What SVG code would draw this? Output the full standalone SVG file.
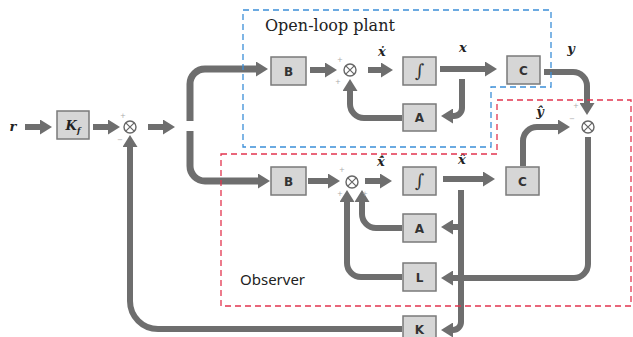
<svg xmlns="http://www.w3.org/2000/svg" width="633" height="337" viewBox="0 0 633 337">
<style>
.box{fill:#d6d6d6;stroke:#7a7a7a;stroke-width:1.5}
.bl{font-family:"DejaVu Sans","Liberation Sans",sans-serif;font-weight:bold;font-size:12px;fill:#333;text-anchor:middle}
.wire{fill:none;stroke:#6e6e6e;stroke-width:6}
.bus{fill:none;stroke:#6e6e6e;stroke-width:7}
.arr{marker-end:url(#ah)}
.sum{fill:#fff;stroke:#666;stroke-width:1.4}
.lab{font-family:"DejaVu Serif","Liberation Serif",serif;font-style:italic;font-weight:bold;font-size:13px;fill:#222;text-anchor:middle}
.sg{font-family:"DejaVu Sans",sans-serif;font-size:7px;fill:#aaa;text-anchor:middle}
.dash{fill:none;stroke-width:1.3;stroke-dasharray:6 4}
.integ{font-family:"DejaVu Serif","Liberation Serif",serif;font-size:18px;fill:#333;text-anchor:middle}
.title{font-family:"DejaVu Serif","Liberation Serif",serif;font-size:16px;fill:#222}
.obs{font-family:"Noto Sans","Open Sans",sans-serif;font-size:15px;fill:#222}
</style>
<defs>
<marker id="ah" markerUnits="userSpaceOnUse" viewBox="0 0 12 15" markerWidth="12" markerHeight="15" refX="4" refY="7.5" orient="auto">
<path d="M0,0 L12,7.5 L0,15 z" fill="#6e6e6e"/>
</marker>
<g id="sumsym"><circle class="sum" r="6"/><path d="M-4.2,-4.2 L4.2,4.2 M-4.2,4.2 L4.2,-4.2" stroke="#666" stroke-width="1.2"/></g>
</defs>

<g id="connectors">
<path class="wire arr" d="M25,127 H44"/>
<path class="wire arr" d="M93,127 H112"/>
<path class="wire arr" d="M148,127 H167"/>
<path class="bus arr" d="M190,121 V84 A15,15 0 0 1 205,69 H260"/>
<path class="bus arr" d="M190,131 V166 A15,15 0 0 0 205,181 H262"/>
<path class="wire arr" d="M310,70 H329"/>
<path class="wire arr" d="M368,70 H385"/>
<path class="wire arr" d="M402,118 H364 A14,14 0 0 1 350,104 V87"/>
<path class="wire arr" d="M440,69 H489"/>
<path class="wire arr" d="M462,79 V108 A8,8 0 0 1 454,116 H449"/>
<path class="wire arr" d="M544,72 H573 A14,14 0 0 1 587,86 V107"/>
<path class="wire arr" d="M588,137 V264 A14,14 0 0 1 574,278 H449"/>
<path class="wire arr" d="M523,166 V141 A14,14 0 0 1 537,127 H562"/>
<path class="wire arr" d="M308,181 H332"/>
<path class="wire arr" d="M365,181 H384"/>
<path class="wire arr" d="M443,179 H487"/>
<path class="wire arr" d="M461,190 V322 A8,8 0 0 1 453,330 H449"/>
<path class="wire arr" d="M461,227 H449"/>
<path class="wire arr" d="M402,228 H376 A14,14 0 0 1 362,214 V198"/>
<path class="wire arr" d="M402,277 H361 A14,14 0 0 1 347,263 V198"/>
<path class="wire arr" d="M402,329 H158 A28,28 0 0 1 130,301 V143"/>
</g>

<g id="r"><text class="lab" x="13" y="131">r</text></g>
<g id="Kf"><rect class="box" x="57" y="111" width="32" height="28"/><text class="lab" x="73" y="130" fill="#333">K<tspan font-size="8" dy="3">f</tspan></text></g>
<g id="sum1"><use href="#sumsym" x="130" y="127"/><text class="sg" x="123" y="118">+</text><text class="sg" x="120" y="142">−</text></g>

<g id="B1"><rect class="box" x="271" y="57" width="35" height="28"/><text class="bl" x="288.5" y="75.5">B</text></g>
<g id="sum2"><use href="#sumsym" x="350" y="70"/><text class="sg" x="340" y="62">+</text><text class="sg" x="338" y="84">+</text></g>
<g id="xdot"><text class="lab" x="382" y="56">ẋ</text></g>
<g id="I1"><rect class="box" x="403" y="57" width="33" height="28"/><text class="integ" x="419.5" y="77">∫</text></g>
<g id="A1"><rect class="box" x="403" y="104" width="33" height="27"/><text class="bl" x="419.5" y="122">A</text></g>
<g id="xl"><text class="lab" x="463" y="52">x</text></g>
<g id="C1"><rect class="box" x="507" y="56" width="33" height="28"/><text class="bl" x="523.5" y="74.5">C</text></g>
<g id="yl"><text class="lab" x="571" y="53">y</text></g>
<g id="sum3"><use href="#sumsym" x="588" y="127"/><text class="sg" x="576" y="108">+</text><text class="sg" x="572" y="121">−</text></g>
<g id="yhat"><text class="lab" x="540" y="116">ŷ</text></g>

<g id="B2"><rect class="box" x="271" y="167" width="35" height="28"/><text class="bl" x="288.5" y="185.5">B</text></g>
<g id="sum4"><use href="#sumsym" x="352" y="182"/><text class="sg" x="342" y="172">+</text><text class="sg" x="340" y="196">+</text><text class="sg" x="365" y="196">+</text></g>
<g id="xhatdot"><text class="lab" x="381" y="166">ẋ̂</text></g>
<g id="I2"><rect class="box" x="403" y="167" width="33" height="28"/><text class="integ" x="419.5" y="187">∫</text></g>
<g id="xhat"><text class="lab" x="462" y="164">x̂</text></g>
<g id="C2"><rect class="box" x="506" y="167" width="33" height="28"/><text class="bl" x="522.5" y="185.5">C</text></g>
<g id="A2"><rect class="box" x="403" y="214" width="33" height="28"/><text class="bl" x="419.5" y="232.5">A</text></g>
<g id="L"><rect class="box" x="403" y="263" width="33" height="28"/><text class="bl" x="419.5" y="281.5">L</text></g>
<g id="K"><rect class="box" x="403" y="316" width="33" height="28"/><text class="bl" x="419.5" y="334">K</text></g>

<g id="plant">
<path class="dash" stroke="#3b8ed8" d="M243,10 H551 V87 H491 V147 H243 Z"/>
<text class="title" x="265" y="31">Open-loop plant</text>
</g>
<g id="observer">
<path class="dash" stroke="#e2354f" d="M221,154 H497 V100 H631 V306 H221 Z"/>
<text class="obs" x="240" y="285">Observer</text>
</g>
</svg>
